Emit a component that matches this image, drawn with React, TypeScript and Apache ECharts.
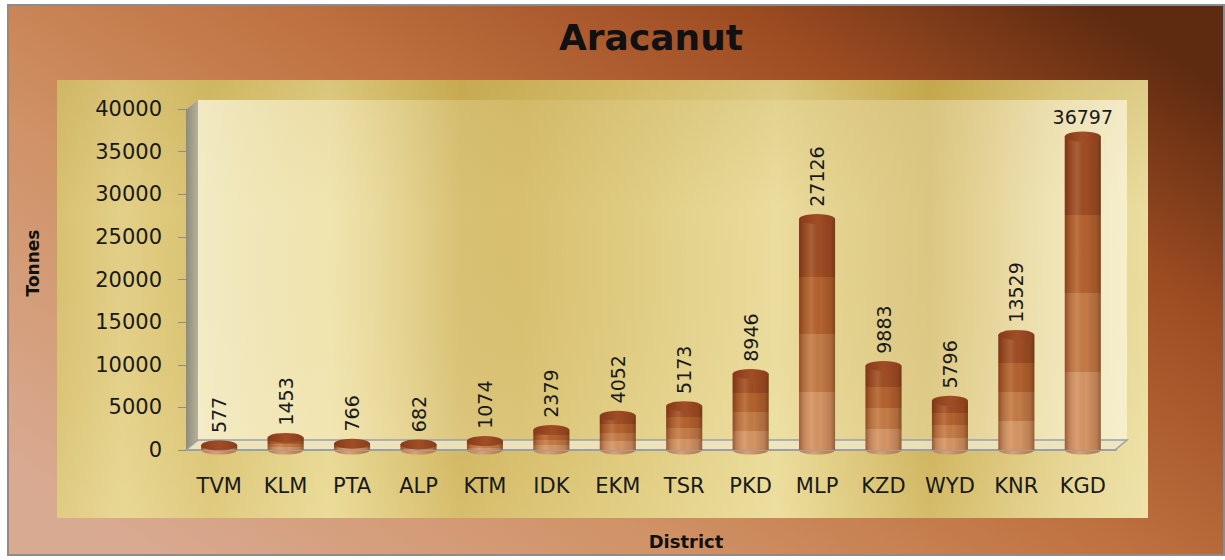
import React, { useEffect, useRef } from "react";
import * as echarts from "echarts";

const districts = ["TVM", "KLM", "PTA", "ALP", "KTM", "IDK", "EKM", "TSR", "PKD", "MLP", "KZD", "WYD", "KNR", "KGD"];
const production = [577, 1453, 766, 682, 1074, 2379, 4052, 5173, 8946, 27126, 9883, 5796, 13529, 36797];
const yMin = 0;
const yMax = 40000;
const yInterval = 5000;
const chartTitle = "Aracanut";
const yName = "Tonnes";
const xName = "District";

function lg(x: number, y: number, x2: number, y2: number, stops: [number, string][]) {
  return new echarts.graphic.LinearGradient(
    x, y, x2, y2,
    stops.map(([offset, color]) => ({ offset, color }))
  );
}

export default function App() {
  const ref = useRef<HTMLDivElement>(null);

  useEffect(() => {
    if (!ref.current) return;
    const chart = echarts.init(ref.current, null, { renderer: "svg" });

    const bandFill = lg(0, 0, 0, 1, [
      [0, "#9f4d24"], [0.25, "#9f4d24"],
      [0.25, "#b4622f"], [0.5, "#b4622f"],
      [0.5, "#c47b47"], [0.75, "#c47b47"],
      [0.75, "#d59565"], [1, "#d59565"],
    ]);
    const shade = lg(0, 0, 1, 0, [
      [0, "rgba(70,25,5,0.45)"],
      [0.12, "rgba(70,25,5,0.15)"],
      [0.35, "rgba(255,235,200,0.12)"],
      [0.6, "rgba(0,0,0,0)"],
      [0.88, "rgba(70,25,5,0.18)"],
      [1, "rgba(70,25,5,0.45)"],
    ]);

    const last = production.length - 1;
    const labelData = production.map((v, i) =>
      i === last
        ? { value: v, label: { rotate: 0, align: "center", verticalAlign: "bottom", distance: 10 } }
        : v
    );

    const option: any = {
      animation: false,
      backgroundColor: "#ffffff",
      title: {
        text: chartTitle,
        left: 646,
        top: 14,
        textAlign: "center",
        textStyle: { fontFamily: "DejaVu Sans", fontWeight: "bold", fontSize: 36, color: "#111" },
      },
      graphic: [
        {
          type: "rect", z: -10,
          shape: { x: 8, y: 5, width: 1216, height: 550 },
          style: {
            fill: lg(0, 0.85, 1, 0.15, [
              [0, "#d9aa92"], [0.3, "#d09266"], [0.55, "#bf7140"], [0.8, "#9d4c22"], [1, "#5e2a10"],
            ]),
            stroke: "#8c8c8c", lineWidth: 2,
          },
        },
        {
          type: "rect", z: -9,
          shape: { x: 57, y: 80, width: 1091, height: 438 },
          style: {
            fill: lg(0, 0, 1, 0, [
              [0, "#d9c172"], [0.06, "#e3d088"], [0.14, "#d8c06d"], [0.25, "#e6d68f"],
              [0.37, "#cdb056"], [0.5, "#d9c26f"], [0.66, "#e8d995"], [0.8, "#caad52"],
              [0.92, "#e2d08a"], [1, "#ebdea0"],
            ]),
          },
        },
        {
          type: "rect", z: -9,
          shape: { x: 57, y: 80, width: 1091, height: 438 },
          style: {
            fill: lg(0, 0, 0, 1, [
              [0, "rgba(180,150,60,0.25)"], [0.3, "rgba(180,150,60,0)"], [0.8, "rgba(255,245,200,0.1)"], [1, "rgba(255,245,200,0.2)"],
            ]),
          },
        },
        {
          type: "rect", z: -8,
          shape: { x: 198, y: 100, width: 929, height: 340 },
          style: {
            fill: lg(0, 0, 1, 0, [
              [0, "rgba(250,246,220,0.8)"], [0.15, "rgba(250,242,205,0.5)"], [0.35, "rgba(245,235,190,0.15)"],
              [0.6, "rgba(245,235,190,0.2)"], [0.85, "rgba(250,242,210,0.45)"], [1, "rgba(250,245,222,0.75)"],
            ]),
          },
        },
        {
          type: "polygon", z: -7,
          shape: { points: [[186, 110], [198, 100], [198, 440], [186, 450]] },
          style: { fill: lg(0, 0, 1, 0, [[0, "#8e8c78"], [1, "#b5b29a"]]) },
        },
        {
          type: "polygon", z: -7,
          shape: { points: [[186, 450], [198, 440], [1127, 440], [1115, 450]] },
          style: { fill: "rgba(238,232,200,0.85)", stroke: "#9aa0a6", lineWidth: 1.5 },
        },
        {
          type: "text", z: 5,
          x: 33, y: 263, rotation: Math.PI / 2,
          style: {
            text: yName, textAlign: "center", textVerticalAlign: "middle",
            font: "bold 17px 'DejaVu Sans'", fill: "#111",
          },
        },
        {
          type: "text", z: 5,
          x: 686, y: 541,
          style: {
            text: xName, textAlign: "center", textVerticalAlign: "middle",
            font: "bold 18px 'DejaVu Sans'", fill: "#111",
          },
        },
      ],
      grid: { left: 186, right: 109, top: 109, bottom: 110, containLabel: false },
      xAxis: {
        type: "category",
        data: districts,
        z: 3,
        axisLine: { show: true, lineStyle: { color: "#9aa0a6", width: 2 } },
        axisTick: { show: false },
        axisLabel: { margin: 25, fontFamily: "DejaVu Sans", fontSize: 21, color: "#1a1a1a" },
      },
      yAxis: {
        type: "value",
        min: yMin,
        max: yMax,
        interval: yInterval,
        z: 3,
        splitLine: { show: false },
        axisLine: { show: true, lineStyle: { color: "#8c8c80", width: 1 } },
        axisTick: { show: true, length: 8, lineStyle: { color: "#8c8c80" } },
        axisLabel: {
          margin: 24, fontFamily: "DejaVu Sans", fontSize: 21, color: "#1a1a1a",
          formatter: (v: number) => String(v),
        },
      },
      series: [
        {
          type: "bar",
          data: production,
          barWidth: 36,
          z: 4,
          itemStyle: { color: bandFill },
        },
        {
          type: "bar",
          data: labelData,
          barWidth: 36,
          barGap: "-100%",
          z: 5,
          itemStyle: { color: shade },
          label: {
            show: true,
            position: "top",
            rotate: 90,
            align: "left",
            verticalAlign: "middle",
            distance: 12,
            fontFamily: "DejaVu Sans",
            fontSize: 19,
            color: "#1a1a1a",
          },
        },
        {
          type: "pictorialBar",
          data: production,
          symbol: "circle",
          symbolSize: [36, 9],
          symbolPosition: "start",
          symbolOffset: [0, "50%"],
          z: 3,
          itemStyle: { color: lg(0, 0, 1, 0, [[0, "#b77a50"], [0.4, "#dba070"], [1, "#b4713f"]]) },
        },
        {
          type: "pictorialBar",
          data: production,
          symbol: "circle",
          symbolSize: [36, 10],
          symbolPosition: "end",
          symbolOffset: [0, "-50%"],
          z: 6,
          itemStyle: {
            color: lg(0, 0, 1, 0, [[0, "#86391a"], [0.5, "#a14e26"], [1, "#8a3c1b"]]),
            borderColor: "rgba(190,110,70,0.7)",
            borderWidth: 1,
          },
        },
      ],
    };

    chart.setOption(option);
    return () => chart.dispose();
  }, []);

  return <div ref={ref} style={{ position: "fixed", left: 0, top: 0, width: 1225, height: 560 }} />;
}
